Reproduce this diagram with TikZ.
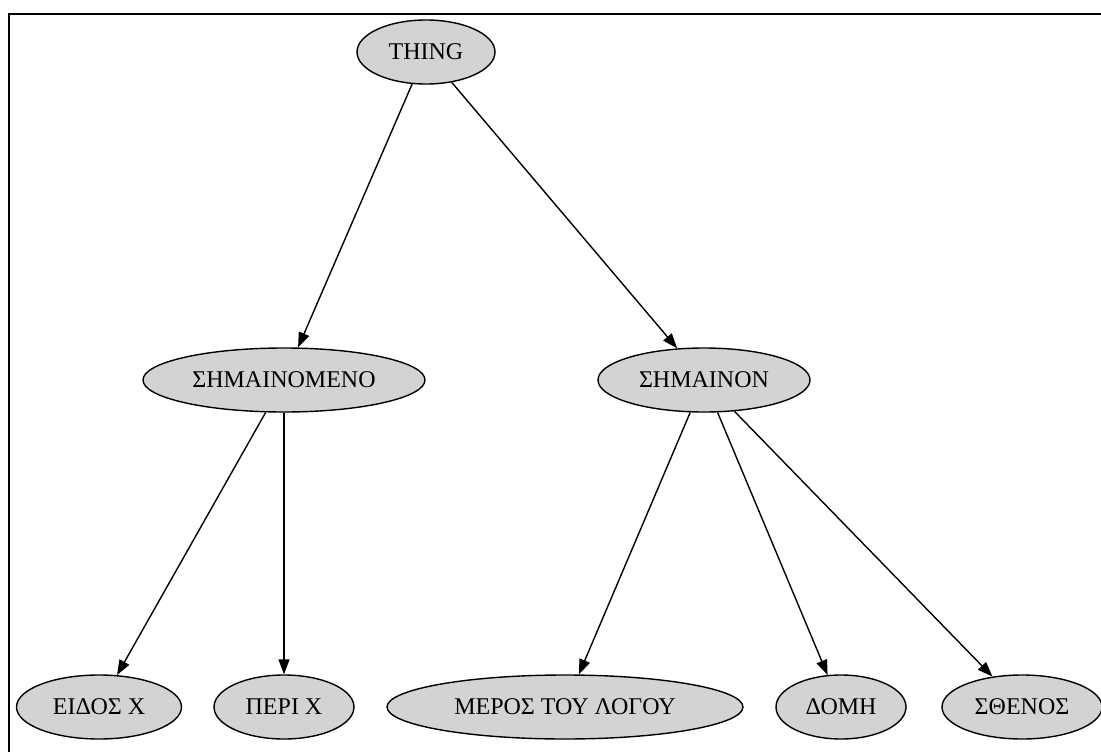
\documentclass[tikz,border=0pt]{standalone}
\usepackage{fontspec}
\setmainfont{Liberation Serif}
\usetikzlibrary{shapes.geometric,arrows.meta}
\definecolor{nodefill}{RGB}{211,211,211}
\begin{document}
\begin{tikzpicture}[x=1pt,y=-1pt,
  gnode/.style={ellipse,draw=black,line width=1.4pt,fill=nodefill,inner sep=0pt,
    font=\fontsize{24}{28}\selectfont},
  edge/.style={draw=black,line width=1.4pt,-{Triangle[length=15pt,width=11pt]}}]
\useasboundingbox (0,0) rectangle (1101,752);
\fill[white] (0,0) rectangle (1101,752);
\draw[line width=2.5pt] (9,770) -- (9,14) -- (1120,14);
\node[gnode,minimum width=138pt,minimum height=64pt] (thing) at (426,52) {THING};
\node[gnode,minimum width=282pt,minimum height=64pt] (smeno) at (284,380) {ΣΗΜΑΙΝΟΜΕΝΟ};
\node[gnode,minimum width=212pt,minimum height=64pt] (snon) at (704,380) {ΣΗΜΑΙΝΟΝ};
\node[gnode,minimum width=165pt,minimum height=64pt] (eidos) at (99,707) {ΕΙΔΟΣ Χ};
\node[gnode,minimum width=140pt,minimum height=64pt] (peri) at (284,707) {ΠΕΡΙ Χ};
\node[gnode,minimum width=356pt,minimum height=64pt] (meros) at (565,707) {ΜΕΡΟΣ ΤΟΥ ΛΟΓΟΥ};
\node[gnode,minimum width=130pt,minimum height=64pt] (domi) at (841,707) {ΔΟΜΗ};
\node[gnode,minimum width=160pt,minimum height=64pt] (sthenos) at (1022,707) {ΣΘΕΝΟΣ};
\draw[edge] (thing) -- (smeno);
\draw[edge] (thing) -- (snon);
\draw[edge] (smeno) -- (eidos);
\draw[edge] (smeno) -- (peri);
\draw[edge] (snon) -- (meros);
\draw[edge] (snon) -- (domi);
\draw[edge] (snon) -- (sthenos);
\end{tikzpicture}
\end{document}
